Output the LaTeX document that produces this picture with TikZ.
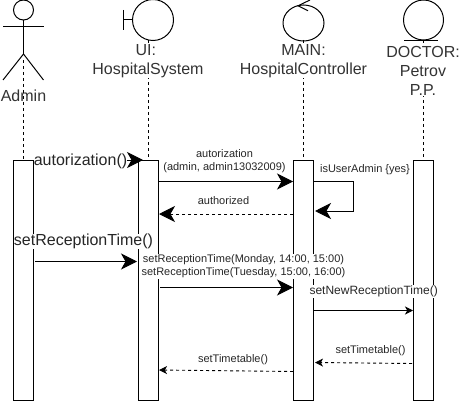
\documentclass[tikz,border=0pt]{standalone}
\usepackage{fontspec}
\setmainfont{Liberation Sans}
\usetikzlibrary{arrows.meta,shapes.geometric}
\tikzset{
  bar/.style={draw,fill=white,line width=1pt,minimum width=20pt,minimum height=240pt,inner sep=0pt},
  lifeline/.style={line width=0.9pt,dash pattern=on 3pt off 3pt},
  glyph/.style={line width=1pt},
  ball/.style={draw,circle,line width=1pt,inner sep=0pt},
  title/.style={font=\fontsize{16}{19}\selectfont,align=center,inner sep=0pt,text=black!80},
  big/.style={font=\fontsize{16}{19}\selectfont,inner sep=0.3pt,fill=white,text=black!85},
  small/.style={font=\fontsize{11}{13}\selectfont,align=center,inner sep=0.5pt,text=black!85},
  tipbig/.tip={Stealth[length=16pt,width=16pt,inset=4.5pt]},
  tipsmall/.tip={Stealth[length=8pt,width=8pt,inset=2.2pt]},
  call/.style={line width=1pt,-tipbig},
  callsm/.style={line width=1pt,-tipsmall},
  reply/.style={line width=0.9pt,dash pattern=on 3pt off 3pt,-tipbig},
  replysm/.style={line width=0.9pt,dash pattern=on 3pt off 3pt,-tipsmall}
}
\begin{document}
\begin{tikzpicture}[x=1pt,y=-1pt]
  \useasboundingbox (0,0) rectangle (460,401);
  % lifelines
  \coordinate (adminTop) at (23,60);
  \coordinate (uiTop) at (148,40);
  \coordinate (mainTop) at (303,40);
  \coordinate (doctorTop) at (423,40);
  % activation bars
  \foreach \name/\x in {admin/23.5,ui/148.5,main/303.5,doctor/423.5}{
    \node[bar] (\name Bar) at (\x,280) {};
  }
  \draw[lifeline] (adminTop) -- (adminTop |- adminBar.north);
  \draw[lifeline] (uiTop) -- (uiTop |- uiBar.north);
  \draw[lifeline] (mainTop) -- (mainTop |- mainBar.north);
  \draw[lifeline] (doctorTop) -- (doctorTop |- doctorBar.north);
  % actor
  \node[ball,minimum size=20pt] (adminHead) at (23.5,10) {};
  \coordinate (adminHip) at (23.5,54);
  \draw[glyph] (adminHead) -- (adminHip);
  \draw[glyph] (3,27) -- (43.5,27);
  \draw[glyph] (3,80) -- (adminHip) -- (43.5,80);
  % boundary
  \node[ball,minimum size=41pt] (uiBall) at (153,20) {};
  \draw[glyph] (123.5,10) -- (123.5,30);
  \draw[glyph] (123.5,20) -- (uiBall);
  % control
  \node[draw,ellipse,line width=1pt,inner sep=0pt,minimum width=41pt,minimum height=36pt] (mainBall) at (303.5,23) {};
  \draw[glyph] (310,0) -- (298,5.8) -- (308,10.8);
  % entity
  \node[ball,minimum size=40pt] (doctorBall) at (423.5,20) {};
  \draw[glyph] (404,40.5) -- (438,40.5);
  % titles
  \node[title] (adminName) at (23.5,96) {Admin};
  \node[title,fill=white] (uiName) at (148,61.5) {UI:\hspace*{4.4pt}\\HospitalSystem};
  \node[title,fill=white] (mainName) at (303.5,61.5) {MAIN:\\HospitalController};
  \node[title,fill=white] (doctorName) at (423,71) {DOCTOR:\\Petrov\\P.P.};
  % messages
  \coordinate (loginA) at (33.5,160);
  \coordinate (loginB) at (143,160);
  \draw[call] (loginA) -- (loginB);
  \node[big] (loginText) at (80.5,161) {autorization()};
  \coordinate (authA) at (158.5,181.5);
  \coordinate (authB) at (293,181.5);
  \draw[call] (authA) -- (authB);
  \node[small] (authText) at (224.5,161.5) {autorization\\(admin, admin13032009)};
  \coordinate (okA) at (293,214);
  \coordinate (okB) at (159,214);
  \draw[reply] (okA) -- (okB);
  \node[small] (okText) at (223.5,201) {authorized};
  \coordinate (selfA) at (313.5,181.5);
  \coordinate (selfB) at (315,211);
  \draw[call] (selfA) -- (353.5,181.5) -- (353.5,211) -- (selfB);
  \node[small] (selfText) at (365,170) {isUserAdmin \{yes\}};
  \coordinate (timeA) at (35,261.5);
  \coordinate (timeB) at (137,261.5);
  \draw[call] (timeA) -- (timeB);
  \node[big] (timeText) at (83.5,241.5) {setReceptionTime()};
  \coordinate (slotA) at (160,287.5);
  \coordinate (slotB) at (293,287.5);
  \draw[call] (slotA) -- (slotB);
  \node[small,fill=white] (slotText) at (243.5,266.5) {setReceptionTime(Monday, 14:00, 15:00)\\setReceptionTime(Tuesday, 15:00, 16:00)};
  \coordinate (newA) at (313.5,310.5);
  \coordinate (newB) at (413,310.5);
  \draw[callsm] (newA) -- (newB);
  \node[font=\fontsize{12}{14}\selectfont,inner sep=0.5pt,fill=white,text=black!85] (newText) at (373.7,291.5) {setNewReceptionTime()};
  \coordinate (backA) at (412,363.5);
  \coordinate (backB) at (315,362.5);
  \draw[replysm] (backA) -- (backB);
  \node[small] (backText) at (370.5,350.5) {setTimetable()};
  \coordinate (tableA) at (293,371.5);
  \coordinate (tableB) at (159,370);
  \draw[replysm] (tableA) -- (tableB);
  \node[small] (tableText) at (233,360) {setTimetable()};
\end{tikzpicture}
\end{document}
